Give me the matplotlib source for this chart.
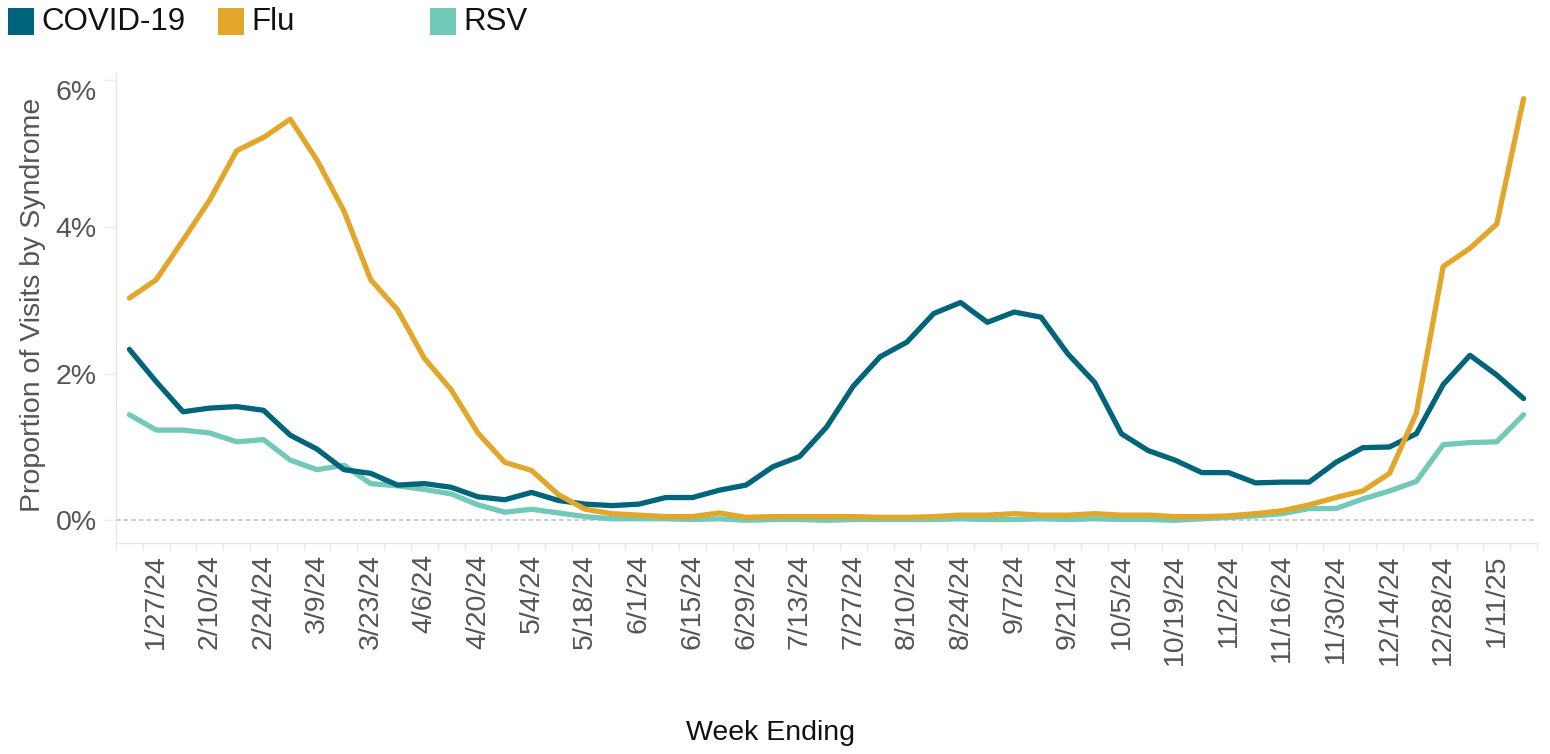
import matplotlib
matplotlib.use("Agg")
import matplotlib.pyplot as plt
import matplotlib.patches as mpatches
import pandas as pd
import numpy as np

plt.rcParams['font.family'] = ['Liberation Sans', 'DejaVu Sans']

# ---- data ----
weeks = pd.date_range("2024-01-20", periods=53, freq="7D")

covid = [2.33, 1.89, 1.48, 1.53, 1.55, 1.50, 1.16, 0.97, 0.69, 0.64,
         0.48, 0.50, 0.45, 0.32, 0.28, 0.38, 0.27, 0.22, 0.20, 0.22,
         0.31, 0.31, 0.41, 0.48, 0.73, 0.87, 1.27, 1.83, 2.23, 2.43,
         2.82, 2.97, 2.70, 2.84, 2.77, 2.27, 1.88, 1.18, 0.95, 0.82,
         0.65, 0.65, 0.51, 0.52, 0.52, 0.79, 0.99, 1.00, 1.18, 1.85,
         2.25, 1.98, 1.66]

flu = [3.03, 3.28, 3.82, 4.37, 5.04, 5.22, 5.47, 4.91, 4.22, 3.28,
       2.87, 2.21, 1.78, 1.19, 0.79, 0.68, 0.35, 0.15, 0.09, 0.07,
       0.05, 0.05, 0.10, 0.04, 0.05, 0.05, 0.05, 0.05, 0.04, 0.04,
       0.05, 0.07, 0.07, 0.09, 0.07, 0.07, 0.09, 0.07, 0.07, 0.05,
       0.05, 0.06, 0.09, 0.13, 0.21, 0.31, 0.40, 0.64, 1.46, 3.46,
       3.71, 4.04, 5.75]

rsv = [1.44, 1.23, 1.23, 1.19, 1.07, 1.10, 0.82, 0.69, 0.75, 0.50,
       0.47, 0.42, 0.36, 0.21, 0.11, 0.15, 0.10, 0.05, 0.02, 0.02,
       0.02, 0.01, 0.02, 0.00, 0.01, 0.01, 0.00, 0.01, 0.01, 0.01,
       0.01, 0.02, 0.01, 0.01, 0.02, 0.01, 0.02, 0.01, 0.01, 0.00,
       0.02, 0.04, 0.06, 0.09, 0.16, 0.16, 0.29, 0.40, 0.53, 1.03,
       1.06, 1.07, 1.44]

tick_labels = ["1/27/24", "2/10/24", "2/24/24", "3/9/24", "3/23/24", "4/6/24",
               "4/20/24", "5/4/24", "5/18/24", "6/1/24", "6/15/24", "6/29/24",
               "7/13/24", "7/27/24", "8/10/24", "8/24/24", "9/7/24", "9/21/24",
               "10/5/24", "10/19/24", "11/2/24", "11/16/24", "11/30/24",
               "12/14/24", "12/28/24", "1/11/25"]

series_names = ["COVID-19", "Flu", "RSV"]
colors = {"COVID-19": "#00657A", "Flu": "#E2A72A", "RSV": "#72C9B8"}

y_ticks = [0, 2, 4, 6]
y_tick_labels = ["0%", "2%", "4%", "6%"]

# ---- figure ----
W, H = 1550, 754
fig = plt.figure(figsize=(W / 100, H / 100), dpi=100)
ax = fig.add_axes([116 / W, 1 - 543 / H, (1537 - 116) / W, (543 - 73) / H])

half = pd.Timedelta(days=3.5)
ax.set_xlim(weeks[0] - half, weeks[-1] + half)
ax.set_ylim(-0.31, 6.1)

# zero reference line
ax.axhline(0, color="#BDBDBD", lw=1.1, ls=(0, (3, 2)), zorder=1)

ax.plot(weeks, rsv, color=colors["RSV"], lw=3.8, solid_capstyle="round", solid_joinstyle="round", zorder=3)
ax.plot(weeks, covid, color=colors["COVID-19"], lw=3.8, solid_capstyle="round", solid_joinstyle="round", zorder=4)
ax.plot(weeks, flu, color=colors["Flu"], lw=3.8, solid_capstyle="round", solid_joinstyle="round", zorder=5)

# spines
for s in ["top", "right"]:
    ax.spines[s].set_visible(False)
for s in ["left", "bottom"]:
    ax.spines[s].set_color("#E6E6E6")
    ax.spines[s].set_linewidth(1.0)

# x ticks
ax.set_xticks(weeks[1::2])
ax.set_xticklabels(tick_labels, rotation=90, fontsize=20.5, color="#555555")
ax.tick_params(axis="x", which="major", length=0, pad=8)
boundaries = list(weeks - half) + [weeks[-1] + half]
ax.set_xticks(boundaries, minor=True)
ax.tick_params(axis="x", which="minor", length=5, color="#E6E6E6", width=1)

# y ticks
ax.set_yticks(y_ticks)
ax.set_yticklabels(y_tick_labels, fontsize=20.5, color="#555555")
ax.tick_params(axis="y", length=9, color="#EBEBEB", width=1, pad=5)
for lbl in ax.get_yticklabels():
    if lbl.get_text() == "6%":
        lbl.set_va("top")

# axis titles
fig.text(33 / W, 1 - 305 / H, "Proportion of Visits by Syndrome", rotation=90,
         ha="center", va="center", fontsize=20.5, color="#555555")
fig.text(770 / W, 1 - 733 / H, "Week Ending", ha="center", va="center",
         fontsize=20.5, color="#111111")

# legend (manual)
leg_x = [8, 218, 430]
for name, x0 in zip(series_names, leg_x):
    fig.patches.append(mpatches.Rectangle((x0 / W, 1 - 35 / H), 26 / W, 27 / H,
                                          transform=fig.transFigure, facecolor=colors[name],
                                          edgecolor="none"))
    fig.text((x0 + 33) / W, 1 - 21.5 / H, name, ha="left", va="center",
             fontsize=22.5, color="#111111")

fig.savefig("out.png", dpi=100, facecolor="white")
